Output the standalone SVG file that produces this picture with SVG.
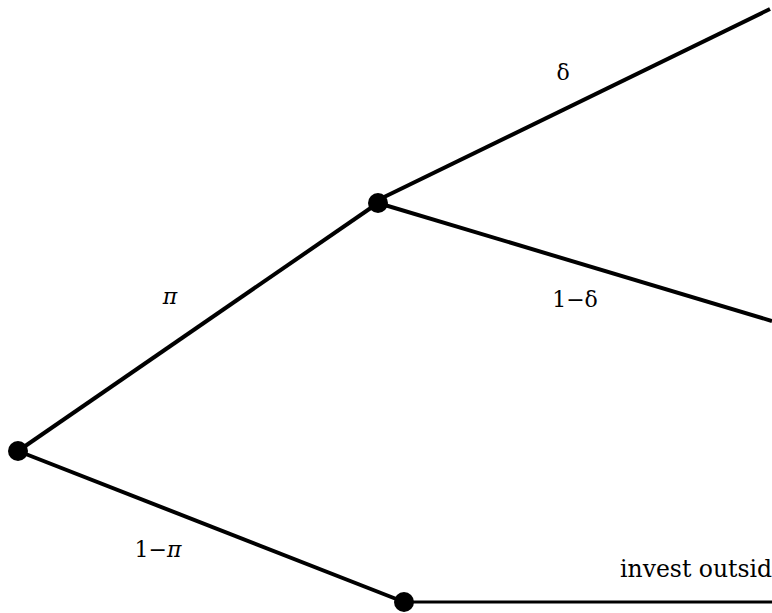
<svg xmlns="http://www.w3.org/2000/svg" width="772" height="613" viewBox="0 0 772 613">
<style>
.e{stroke:#000;stroke-width:4;fill:none}
.n{fill:#000}
text{font-family:"DejaVu Serif","Liberation Serif",serif;font-size:22px;fill:#000}
.m{font-style:italic}
</style>
<rect width="772" height="613" fill="#fff"/>
<g id="connectors">
<line class="e" x1="18" y1="451" x2="378" y2="203"/>
<line class="e" x1="18" y1="451" x2="404" y2="602"/>
<line class="e" x1="378" y1="200" x2="770" y2="9"/>
<line class="e" x1="378" y1="203" x2="772" y2="321"/>
<line class="e" x1="404" y1="602" x2="772" y2="602" style="stroke-width:3"/>
</g>
<g id="nodeA"><circle class="n" cx="18" cy="451" r="10"/></g>
<g id="nodeB"><circle class="n" cx="378" cy="203" r="10"/></g>
<g id="nodeC"><circle class="n" cx="404" cy="602" r="10"/></g>
<g id="labels">
<text x="563" y="80" text-anchor="middle">δ</text>
<text x="170" y="304" text-anchor="middle" class="m">π</text>
<text x="575" y="307" text-anchor="middle">1−δ</text>
<text x="158" y="557" text-anchor="middle">1−<tspan class="m">π</tspan></text>
<text x="620" y="577" style="font-size:23.5px">invest outside</text>
</g>
</svg>
